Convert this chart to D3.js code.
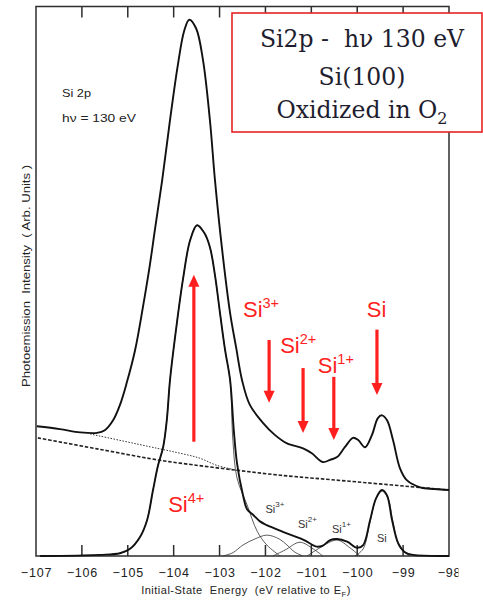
<!DOCTYPE html>
<html>
<head>
<meta charset="utf-8">
<script src="https://cdn.jsdelivr.net/npm/d3@7"></script>
<style>
  html, body { margin: 0; padding: 0; background: #fff; }
  svg { display: block; }
</style>
</head>
<body>
<svg id="chart" width="483" height="602"></svg>
<script>
// Si 2p photoemission spectrum, Si(100) oxidized in O2, hv = 130 eV
// Energies in eV relative to E_F, intensities in arbitrary units.

const energyTicks = [-107, -106, -105, -104, -103, -102, -101, -100, -99, -98];

// Raw spectrum (upper trace)
const rawE = [-106.98, -106.48, -106.04, -105.67, -105.50, -105.32, -105.17, -105.02, -104.84, -104.67,
  -104.52, -104.41, -104.25, -104.08, -103.91, -103.77, -103.66, -103.51, -103.36, -103.21,
  -103.10, -102.95, -102.77, -102.64, -102.51, -102.34, -102.05, -101.79, -101.53, -101.18,
  -100.99, -100.75, -100.59, -100.44, -100.27, -100.09, -99.98, -99.83, -99.68, -99.55,
  -99.46, -99.35, -99.22, -99.07, -98.92, -98.63, -98.31, -98.00];
const rawI = [23.6, 23.1, 22.5, 22.4, 22.9, 24.7, 27.5, 31.6, 37.5, 45.3,
  52.9, 59.3, 68.4, 79.3, 89.3, 95.6, 97.6, 96.0, 90.2, 79.3,
  68.4, 56.2, 44.2, 38.0, 32.0, 27.5, 24.2, 22.0, 20.5, 19.6,
  18.7, 17.1, 17.5, 18.0, 19.8, 21.5, 21.1, 19.8, 22.0, 25.1,
  25.6, 24.7, 21.1, 16.0, 13.8, 12.5, 12.2, 12.0];

// Dashed background
const bgDashE = [-106.96, -105.67, -104.36, -103.86, -102.62, -101.68, -100.16, -98.00];
const bgDashI = [21.5, 19.5, 17.5, 16.9, 15.6, 14.7, 13.6, 12.0];

// Dotted background
const bgDotE = [-105.82, -104.36, -103.86, -103.43, -103.06, -102.62];
const bgDotI = [22.2, 19.6, 18.7, 17.8, 16.5, 15.6];

// Background-subtracted spectrum (lower trace)
const subE = [-106.91, -105.61, -105.17, -104.95, -104.73, -104.58, -104.45, -104.34, -104.23, -104.15,
  -104.08, -103.95, -103.80, -103.64, -103.49, -103.34, -103.21, -103.10, -102.99, -102.88,
  -102.77, -102.69, -102.62, -102.49, -102.40, -102.27, -102.12, -101.97, -101.62, -101.18,
  -100.88, -100.75, -100.59, -100.44, -100.22, -100.00, -99.87, -99.72, -99.59, -99.46,
  -99.35, -99.24, -99.11, -98.96, -98.78, -98.00];
const subI = [0, 0.2, 0.5, 1.3, 3.5, 6.5, 12.0, 16.5, 19.8, 24.7,
  32.0, 41.1, 50.2, 57.5, 60.2, 58.9, 56.2, 51.1, 44.2, 37.5,
  32.0, 22.9, 16.9, 11.1, 8.5, 7.5, 6.3, 5.6, 4.4, 3.0,
  1.7, 1.9, 2.9, 3.1, 2.6, 1.5, 2.0, 6.5, 10.5, 12.0,
  11.0, 6.5, 2.4, 0.7, 0.2, 0];

// Fitted components
const si4E = [-106.91, -105.61, -105.17, -104.95, -104.73, -104.58, -104.45, -104.34, -104.23, -104.15,
  -104.08, -103.95, -103.80, -103.64, -103.49, -103.34, -103.21, -103.10, -102.99, -102.88,
  -102.77, -102.71, -102.62, -102.40, -102.18, -101.97, -101.68];
const si4I = [0, 0.2, 0.5, 1.3, 3.5, 6.5, 12.0, 16.5, 19.8, 24.7,
  32.0, 41.1, 50.2, 57.5, 60.2, 58.9, 56.2, 51.1, 44.2, 37.5,
  32.0, 21.1, 14.2, 9.3, 4.5, 2.0, 0];
const si3E = [-102.93, -102.71, -102.49, -102.23, -101.97, -101.70, -101.53, -101.36, -101.18];
const si3I = [0, 0.6, 2.0, 3.1, 3.8, 3.1, 2.0, 0.7, 0];
const si2E = [-101.84, -101.57, -101.25, -100.96, -100.75];
const si2I = [0, 1.1, 2.5, 1.3, 0];
const si1E = [-101.09, -100.81, -100.44, -100.16, -99.94];
const si1I = [0, 1.5, 2.9, 1.5, 0];
const si0E = [-100.05, -99.87, -99.72, -99.59, -99.46, -99.33, -99.22, -99.07, -98.85];
const si0I = [0, 1.3, 6.2, 10.4, 11.8, 10.5, 6.2, 1.5, 0];

// Red markers: label, energy of arrow, arrow start/end intensity
const markerLabels = ["Si", "Si", "Si", "Si"];
const markerCharges = ["3+", "2+", "1+", ""];
const markerE = [-101.92, -101.18, -100.51, -99.57];
const markerTop = [39.3, 34.2, 32.6, 41.2];
const markerTip = [27.9, 22.4, 21.1, 29.3];
const markerLabelE = [-102.49, -101.68, -100.86, -99.79];
const markerLabelI = [43.5, 37.0, 33.3, 43.5];

const peakArrowE = -103.56;
const peakArrowFrom = 20.8;
const peakArrowTo = 51.2;
const peakLabelE = -104.12;
const peakLabelI = 8.0;

// Component labels on the lower trace
const compLabels = ["Si", "Si", "Si", "Si"];
const compCharges = ["3+", "2+", "1+", ""];
const compLabelE = [-102.00, -101.29, -100.55, -99.57];
const compLabelI = [7.8, 5.1, 4.2, 2.5];

const svg = d3.select("#chart");
const frameLeft = 36, frameRight = 449, frameTop = 6.5, frameBottom = 556;
const tickLen = 11;

const x = d3.scaleLinear().domain([-107, -98]).range([frameLeft, frameRight]);
const y = d3.scaleLinear().domain([0, 100]).range([frameBottom, frameTop]);

const zip = (es, is) => es.map((e, i) => [e, is[i]]);
const line = d3.line().x(d => x(d[0])).y(d => y(d[1])).curve(d3.curveCatmullRom.alpha(0.5));
const sans = "Liberation Sans, Arial, sans-serif";
const ink = "#222";

// Frame with inward tick marks on the top and bottom edges, as one path
const framePath = d3.path();
framePath.rect(frameLeft, frameTop, frameRight - frameLeft, frameBottom - frameTop);
energyTicks.forEach(d => {
  framePath.moveTo(x(d), frameBottom);
  framePath.lineTo(x(d), frameBottom - tickLen);
  framePath.moveTo(x(d), frameTop);
  framePath.lineTo(x(d), frameTop + tickLen);
});
svg.append("path").attr("d", framePath.toString())
  .attr("fill", "none").attr("stroke", "#2e2e2e").attr("stroke-width", 1.5);

// Bottom tick labels (the rightmost one is cut at the figure edge)
const xAxis = d3.axisBottom(x).tickValues(energyTicks).tickSize(0).tickPadding(12);
const gx = svg.append("g").attr("transform", `translate(0,${frameBottom})`).call(xAxis);
gx.select(".domain").remove();
gx.selectAll(".tick line").remove();
gx.selectAll(".tick text")
  .attr("font-family", sans).attr("font-size", 12.5).attr("fill", ink).attr("letter-spacing", "0.8px");
const lastTick = gx.selectAll(".tick").filter(d => d === -98);
lastTick.append("clipPath").attr("id", "edgeClipLocal")
  .append("rect").attr("x", -30).attr("y", -10).attr("width", 458 - x(-98) + 30).attr("height", 40);
lastTick.select("text").attr("clip-path", "url(#edgeClipLocal)");

// Axis titles
const xt = svg.append("text")
  .attr("x", 246).attr("y", 594).attr("text-anchor", "middle")
  .attr("font-family", sans).attr("font-size", 11).attr("fill", ink).attr("letter-spacing", "0.5px")
  .attr("xml:space", "preserve");
xt.append("tspan").text("Initial-State  Energy  (eV relative to E");
xt.append("tspan").attr("font-size", 7.5).attr("dy", 3).text("F");
xt.append("tspan").attr("dy", -3).text(")");

svg.append("text")
  .attr("transform", "translate(30,276) rotate(-90)").attr("text-anchor", "middle")
  .attr("font-family", sans).attr("font-size", 10.5).attr("fill", ink)
  .attr("textLength", 222).attr("lengthAdjust", "spacingAndGlyphs")
  .attr("xml:space", "preserve")
  .text("Photoemission  Intensity  ( Arb. Units )");

// In-plot annotation
svg.append("text").attr("x", 62).attr("y", 97)
  .attr("font-family", sans).attr("font-size", 10.5).attr("fill", ink)
  .attr("textLength", 29).attr("lengthAdjust", "spacingAndGlyphs")
  .text("Si 2p");
svg.append("text").attr("x", 62).attr("y", 122)
  .attr("font-family", sans).attr("font-size", 10.5).attr("fill", ink)
  .attr("textLength", 74).attr("lengthAdjust", "spacingAndGlyphs")
  .text("hν = 130 eV");

// Backgrounds
svg.append("path").datum(zip(bgDashE, bgDashI)).attr("d", line)
  .attr("fill", "none").attr("stroke", "#222").attr("stroke-width", 1.6).attr("stroke-dasharray", "3.5,1.8");
svg.append("path").datum(zip(bgDotE, bgDotI)).attr("d", line)
  .attr("fill", "none").attr("stroke", "#333").attr("stroke-width", 1).attr("stroke-dasharray", "1.5,1.5");

// Components (thin)
[[si4E, si4I], [si3E, si3I], [si2E, si2I], [si1E, si1I], [si0E, si0I]].forEach(([es, is]) => {
  svg.append("path").datum(zip(es, is)).attr("d", line)
    .attr("fill", "none").attr("stroke", "#333").attr("stroke-width", 0.8);
});

// Spectra (thick)
svg.append("path").datum(zip(rawE, rawI)).attr("d", line)
  .attr("fill", "none").attr("stroke", "#111").attr("stroke-width", 1.9);
svg.append("path").datum(zip(subE, subI)).attr("d", line)
  .attr("fill", "none").attr("stroke", "#111").attr("stroke-width", 1.9);

// Component labels
compLabels.forEach((lab, i) => {
  const t = svg.append("text").attr("x", x(compLabelE[i])).attr("y", y(compLabelI[i]))
    .attr("font-family", sans).attr("font-size", 11).attr("fill", "#333");
  t.append("tspan").text(lab);
  if (compCharges[i]) t.append("tspan").attr("font-size", 8).attr("dy", -6).text(compCharges[i]);
});

// Red arrows
const red = "#ff1f1f";
function arrow(xp, y0, y1) {
  const dir = Math.sign(y1 - y0);
  const headLen = 12, headW = 5.5;
  svg.append("line").attr("x1", xp).attr("x2", xp).attr("y1", y0).attr("y2", y1 - dir * headLen + dir)
    .attr("stroke", red).attr("stroke-width", 3.2);
  svg.append("path")
    .attr("d", `M${xp - headW},${y1 - dir * headLen} L${xp + headW},${y1 - dir * headLen} L${xp},${y1} Z`)
    .attr("fill", red);
}
markerE.forEach((e, i) => arrow(x(e), y(markerTop[i]), y(markerTip[i])));
arrow(x(peakArrowE), y(peakArrowFrom), y(peakArrowTo));

// Red labels
function redLabel(xp, yp, base, charge) {
  const t = svg.append("text").attr("x", xp).attr("y", yp)
    .attr("font-family", sans).attr("font-size", 22).attr("fill", red);
  t.append("tspan").text(base);
  if (charge) t.append("tspan").attr("font-size", 14.5).attr("dy", -9).text(charge);
}
markerLabels.forEach((lab, i) => redLabel(x(markerLabelE[i]), y(markerLabelI[i]), lab, markerCharges[i]));
redLabel(x(peakLabelE), y(peakLabelI), "Si", "4+");

// Title box
svg.append("rect").attr("x", 232).attr("y", 13).attr("width", 250).attr("height", 119)
  .attr("fill", "#fff").attr("stroke", "#e52222").attr("stroke-width", 1.6);
const serif = "DejaVu Serif, Liberation Serif, serif";
const boxInk = "#1e1e30";
svg.append("text").attr("x", 362).attr("y", 47).attr("text-anchor", "middle")
  .attr("font-family", serif).attr("font-size", 23.5).attr("fill", boxInk)
  .attr("xml:space", "preserve").text("Si2p -  hν 130 eV");
svg.append("text").attr("x", 362).attr("y", 85).attr("text-anchor", "middle")
  .attr("font-family", serif).attr("font-size", 23.5).attr("fill", boxInk)
  .text("Si(100)");
const l3 = svg.append("text").attr("x", 362).attr("y", 118).attr("text-anchor", "middle")
  .attr("font-family", serif).attr("font-size", 23.5).attr("fill", boxInk);
l3.append("tspan").text("Oxidized in O");
l3.append("tspan").attr("font-size", 16).attr("dy", 6).text("2");
</script>
</body>
</html>
